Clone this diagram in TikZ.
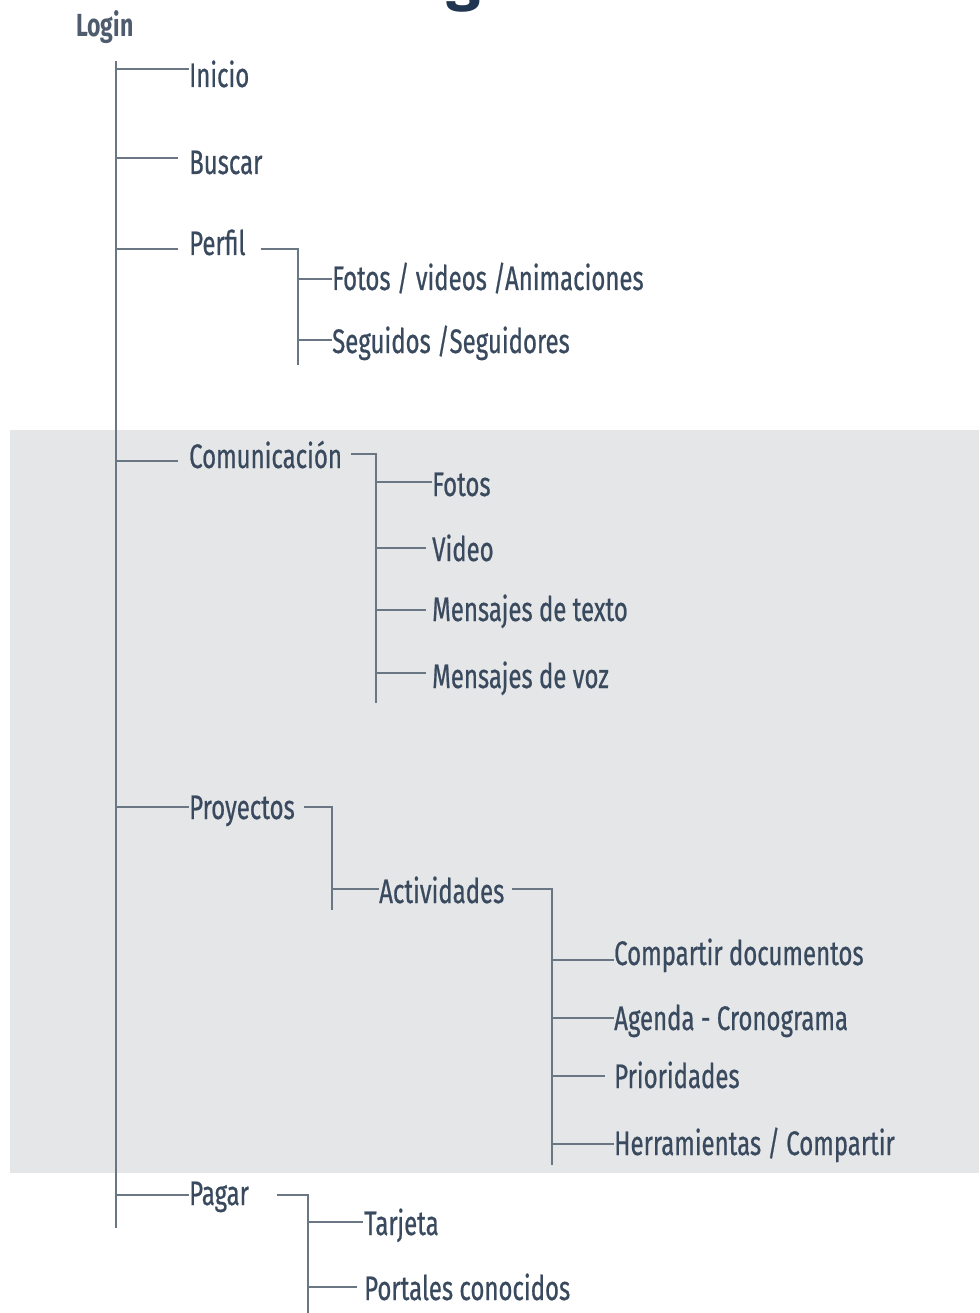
\documentclass[tikz,border=0pt]{standalone}
\usepackage{fontspec}
\setmainfont[FakeStretch=0.705,FakeBold=0.6]{Fira Sans}
\newfontfamily\titlefont{Fira Sans}
\newfontfamily\loginfont[FakeStretch=0.72]{Fira Sans}
\definecolor{txtc}{HTML}{3A4A5E}
\definecolor{linec}{HTML}{6B7684}
\definecolor{bandc}{HTML}{E5E6E8}
\definecolor{titlec}{HTML}{1F3550}
\tikzset{
  lbl/.style={anchor=base west, inner sep=0pt, text=txtc, font=\fontsize{34}{40}\selectfont},
  loginlbl/.style={anchor=base west, inner sep=0pt, text=txtc!90!white, font=\loginfont\bfseries\fontsize{32}{38}\selectfont},
  conn/.style={draw=linec, line width=1.4pt},
}
\begin{document}
\begin{tikzpicture}[x=1pt,y=-1pt]
\useasboundingbox (0,0) rectangle (979,1313);
\fill[bandc] (10,430) rectangle (979,1173);
% cropped title
\node[inner sep=0pt, anchor=base, text=titlec, font=\titlefont\bfseries\fontsize{62}{62}\selectfont] (title) at (464,-1) {g};
% root
\node[loginlbl] (login) at (76,37) {Login};
% level 1
\node[lbl] (inicio) at (189,87) {Inicio};
\node[lbl] (buscar) at (189,174) {Buscar};
\node[lbl] (perfil) at (189,255) {Perfil};
\node[lbl] (comunic) at (189,468) {Comunicación};
\node[lbl] (proyectos) at (189,819) {Proyectos};
\node[lbl] (pagar) at (189,1205) {Pagar};
% perfil children
\node[lbl] (fotosvid) at (332,290) {Fotos / videos /Animaciones};
\node[lbl] (seguidos) at (332,353) {Seguidos /Seguidores};
% comunicacion children
\node[lbl] (fotos) at (432,496) {Fotos};
\node[lbl] (video) at (432,561) {Video};
\node[lbl] (mtexto) at (432,621) {Mensajes de texto};
\node[lbl] (mvoz) at (432,688) {Mensajes de voz};
% proyectos children
\node[lbl] (activ) at (379,903) {Actividades};
\node[lbl] (compdoc) at (614,965) {Compartir documentos};
\node[lbl] (agenda) at (614,1030) {Agenda - Cronograma};
\node[lbl] (prior) at (614,1088) {Prioridades};
\node[lbl] (herram) at (614,1155) {Herramientas / Compartir};
% pagar children
\node[lbl] (tarjeta) at (364,1235) {Tarjeta};
\node[lbl] (portales) at (364,1300) {Portales conocidos};
% trunk
\coordinate (trTop) at (116,61);
\coordinate (trBot) at (116,1228);
\draw[conn] (trTop) -- (trBot);
\coordinate (tInicio) at (116,69);
\coordinate (tBuscar) at (116,158);
\coordinate (tPerfil) at (116,249);
\coordinate (tComunic) at (116,461);
\coordinate (tProy) at (116,807);
\coordinate (tPagar) at (116,1195);
\draw[conn] (tInicio) -- (inicio.west |- tInicio);
\draw[conn] (tBuscar) -- ([xshift=-11pt]buscar.west |- tBuscar);
\draw[conn] (tPerfil) -- ([xshift=-11pt]perfil.west |- tPerfil);
\draw[conn] (tComunic) -- ([xshift=-11pt]comunic.west |- tComunic);
\draw[conn] (tProy) -- (proyectos.west |- tProy);
\draw[conn] (tPagar) -- (pagar.west |- tPagar);
% perfil branch
\coordinate (pj) at (298,249);
\coordinate (pEnd) at (298,365);
\coordinate (pFv) at (298,279);
\coordinate (pSg) at (298,340);
\draw[conn] ([xshift=15pt]perfil.east |- pj) -- (pj) -- (pEnd);
\draw[conn] (pFv) -- (fotosvid.west |- pFv);
\draw[conn] (pSg) -- (seguidos.west |- pSg);
% comunicacion branch
\coordinate (cj) at (376,454);
\coordinate (cEnd) at (376,703);
\coordinate (cFo) at (376,482);
\coordinate (cVi) at (376,548);
\coordinate (cMt) at (376,610);
\coordinate (cMv) at (376,673);
\draw[conn] ([xshift=9pt]comunic.east |- cj) -- (cj) -- (cEnd);
\draw[conn] (cFo) -- (fotos.west |- cFo);
\draw[conn] (cVi) -- ([xshift=-6pt]video.west |- cVi);
\draw[conn] (cMt) -- ([xshift=-6pt]mtexto.west |- cMt);
\draw[conn] (cMv) -- ([xshift=-6pt]mvoz.west |- cMv);
% proyectos branch
\coordinate (yj) at (332,807);
\coordinate (yEnd) at (332,910);
\coordinate (yAc) at (332,889);
\draw[conn] ([xshift=9pt]proyectos.east |- yj) -- (yj) -- (yEnd);
\draw[conn] (yAc) -- (activ.west |- yAc);
% actividades branch
\coordinate (aj) at (552,889);
\coordinate (aEnd) at (552,1165);
\coordinate (aCd) at (552,960);
\coordinate (aAg) at (552,1018);
\coordinate (aPr) at (552,1076);
\coordinate (aHe) at (552,1144);
\draw[conn] ([xshift=7pt]activ.east |- aj) -- (aj) -- (aEnd);
\draw[conn] (aCd) -- (compdoc.west |- aCd);
\draw[conn] (aAg) -- (agenda.west |- aAg);
\draw[conn] (aPr) -- ([xshift=-9pt]prior.west |- aPr);
\draw[conn] (aHe) -- (herram.west |- aHe);
% pagar branch
\coordinate (gj) at (308,1195);
\coordinate (gEnd) at (308,1313);
\coordinate (gTa) at (308,1222);
\coordinate (gPo) at (308,1287);
\draw[conn] ([xshift=28pt]pagar.east |- gj) -- (gj) -- (gEnd);
\draw[conn] (gTa) -- ([xshift=-1pt]tarjeta.west |- gTa);
\draw[conn] (gPo) -- ([xshift=-7pt]portales.west |- gPo);
\end{tikzpicture}
\end{document}
